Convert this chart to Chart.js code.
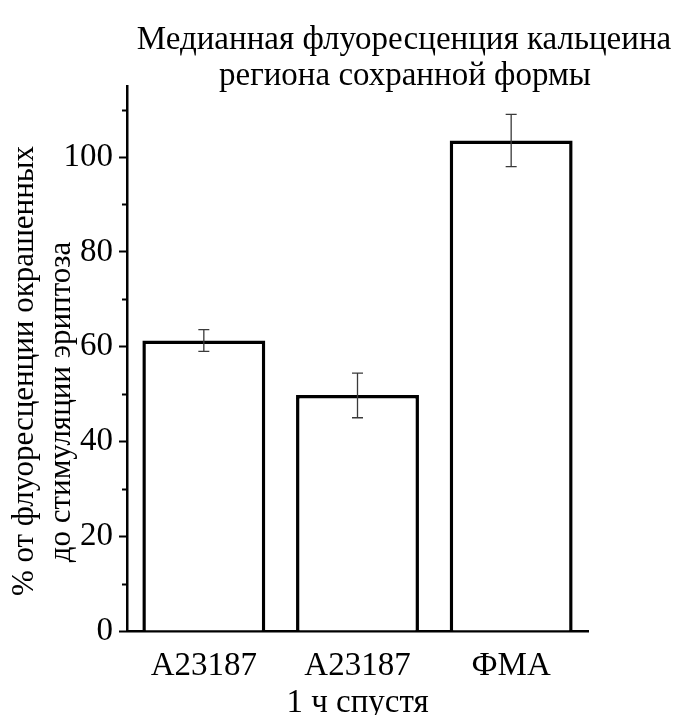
<!DOCTYPE html>
<html lang="ru">
<head>
<meta charset="utf-8">
<title>Медианная флуоресценция кальцеина</title>
<script src="https://cdn.jsdelivr.net/npm/chart.js@4.4.1/dist/chart.umd.min.js"></script>
<style>
    html, body { margin: 0; padding: 0; background: #fff; }
    #wrap { width: 691px; height: 715px; }
</style>
</head>
<body>
<div id="wrap"><canvas id="calcein-chart" width="691" height="715"></canvas></div>
<script>
const categories = ['A23187', ['A23187', '1 ч спустя'], 'ФМА'];
const medianValues = [61.3, 49.8, 103.5];
const errorLow = [59.0, 45.0, 98.0];
const errorHigh = [63.6, 54.4, 109.0];
const yMin = 0;
const yMax = 115;
const yMajorStep = 20;
const yMinorTicks = [10, 30, 50, 70, 90, 110];
const titleLines = ['Медианная флуоресценция кальцеина', 'региона сохранной формы'];
const yTitleLines = ['% от флуоресценции окрашенных', 'до стимуляции эриптоза'];

(() => {
    const FONT = '"Liberation Serif", "Times New Roman", serif';

    const errorBars = {
        id: 'errorBars',
        afterDatasetsDraw(chart) {
            const { ctx } = chart;
            const meta = chart.getDatasetMeta(0);
            const y = chart.scales.y;
            ctx.save();
            ctx.strokeStyle = '#3a3a3a';
            ctx.lineWidth = 1.3;
            meta.data.forEach((bar, i) => {
                const x = bar.x;
                const top = y.getPixelForValue(errorHigh[i]);
                const bottom = y.getPixelForValue(errorLow[i]);
                ctx.beginPath();
                ctx.moveTo(x, top);
                ctx.lineTo(x, bottom);
                ctx.moveTo(x - 5.5, top);
                ctx.lineTo(x + 5.5, top);
                ctx.moveTo(x - 5.5, bottom);
                ctx.lineTo(x + 5.5, bottom);
                ctx.stroke();
            });
            ctx.restore();
        },
    };

    const minorTicks = {
        id: 'minorTicks',
        afterDraw(chart) {
            const { ctx } = chart;
            const y = chart.scales.y;
            const left = chart.chartArea.left;
            ctx.save();
            ctx.strokeStyle = '#000';
            ctx.lineWidth = 2;
            yMinorTicks.forEach((v) => {
                const py = Math.round(y.getPixelForValue(v)) + 0.5;
                ctx.beginPath();
                ctx.moveTo(left - 5, py);
                ctx.lineTo(left, py);
                ctx.stroke();
            });
            ctx.restore();
        },
    };

    const titles = {
        id: 'titles',
        afterDraw(chart) {
            const { ctx } = chart;
            ctx.save();
            ctx.fillStyle = '#000';
            ctx.textAlign = 'center';
            ctx.textBaseline = 'alphabetic';
            ctx.font = `33px ${FONT}`;
            ctx.fillText(titleLines[0], 404, 49);
            ctx.fillText(titleLines[1], 405, 85);

            ctx.font = `31px ${FONT}`;
            ctx.textBaseline = 'middle';
            [[25, 371], [62, 402]].forEach(([x, yc], i) => {
                ctx.save();
                ctx.translate(x, yc);
                ctx.rotate(-Math.PI / 2);
                ctx.fillText(yTitleLines[i], 0, 0);
                ctx.restore();
            });
            ctx.restore();
        },
    };

    new Chart(document.getElementById('calcein-chart'), {
        type: 'bar',
        data: {
            labels: categories,
            datasets: [{
                data: medianValues,
                backgroundColor: '#fff',
                borderColor: '#000',
                borderWidth: 3.5,
                barPercentage: 0.8,
                categoryPercentage: 1,
            }],
        },
        options: {
            responsive: false,
            animation: false,
            devicePixelRatio: 1,
            layout: { padding: { left: 0, top: 86, right: 103, bottom: 0 } },
            plugins: {
                legend: { display: false },
                tooltip: { enabled: false },
                title: { display: false },
            },
            scales: {
                x: {
                    afterFit: (scale) => { scale.height = 84; },
                    grid: { display: false },
                    border: { display: true, color: '#000', width: 2.5 },
                    ticks: {
                        color: '#000',
                        padding: 9,
                        maxRotation: 0,
                        font: { family: FONT, size: 33, lineHeight: 1.12 },
                    },
                },
                y: {
                    min: yMin,
                    max: yMax,
                    afterFit: (scale) => { scale.width = 127; },
                    grid: {
                        display: true,
                        drawOnChartArea: false,
                        drawTicks: true,
                        tickLength: 8,
                        tickWidth: 2,
                        tickColor: '#000',
                    },
                    border: { display: true, color: '#000', width: 2.5 },
                    ticks: {
                        stepSize: yMajorStep,
                        includeBounds: false,
                        color: '#000',
                        padding: 6,
                        font: { family: FONT, size: 33 },
                    },
                },
            },
        },
        plugins: [errorBars, minorTicks, titles],
    });
})();
</script>
</body>
</html>
